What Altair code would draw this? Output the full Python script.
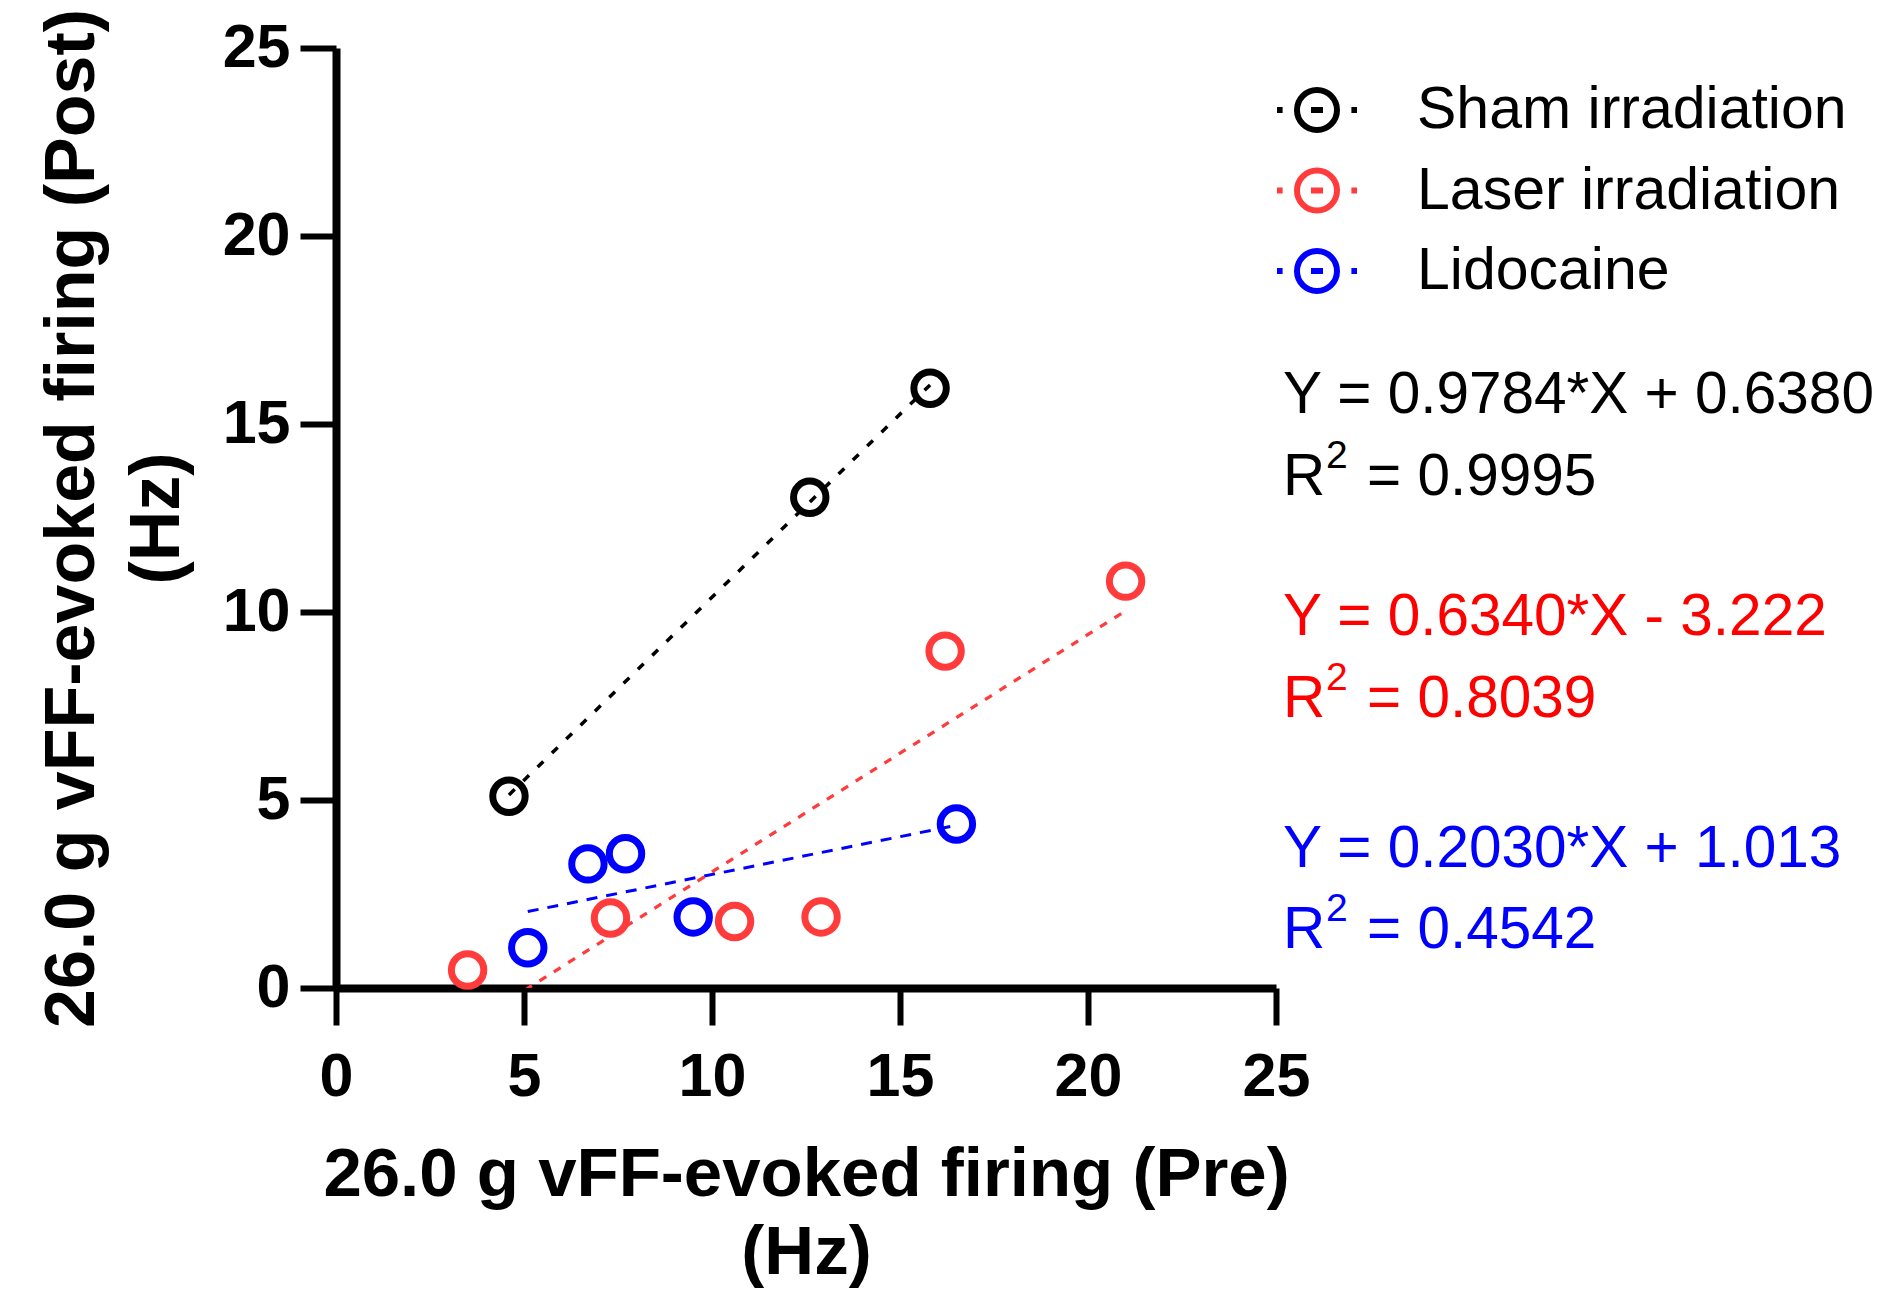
import altair as alt
import pandas as pd

groups = ["Sham irradiation", "Laser irradiation", "Lidocaine"]
point_colors = ["#000000", "#FF3B3B", "#0000FF"]
text_colors = ["#000000", "#FF0000", "#0000FF"]

sham_pre = [4.6, 12.6, 15.8]
sham_post = [5.1, 13.05, 15.95]
laser_pre = [3.5, 7.3, 10.6, 12.9, 16.2, 21.0]
laser_post = [0.48, 1.86, 1.77, 1.89, 8.96, 10.82]
lido_pre = [5.1, 6.7, 7.7, 9.5, 16.5]
lido_post = [1.07, 3.3, 3.57, 1.89, 4.36]

eq_lines = ["Y = 0.9784*X + 0.6380", "Y = 0.6340*X - 3.222", "Y = 0.2030*X + 1.013"]
r2_values = ["= 0.9995", "= 0.8039", "= 0.4542"]
ticks = [0, 5, 10, 15, 20, 25]

FONT = "Liberation Sans"

df = pd.concat([
    pd.DataFrame({"group": groups[0], "pre": sham_pre, "post": sham_post}),
    pd.DataFrame({"group": groups[1], "pre": laser_pre, "post": laser_post}),
    pd.DataFrame({"group": groups[2], "pre": lido_pre, "post": lido_post}),
])

x_scale = alt.Scale(domain=[0, 25], nice=False)
y_scale = alt.Scale(domain=[0, 25], nice=False)

x_axis = alt.Axis(
    values=ticks, grid=False,
    title=["26.0 g vFF-evoked firing (Pre)", "(Hz)"],
    titleFont=FONT, titleFontSize=69, titleFontWeight="bold", titleColor="black",
    titleX=470, titleY=207, titleAlign="center", titleBaseline="alphabetic",
    titleLineHeight=78,
    labelFont=FONT, labelFontSize=61, labelFontWeight="bold", labelColor="black",
    labelBaseline="alphabetic", labelPadding=70, labelFlush=False, labelOverlap=False,
    tickSize=37, tickWidth=6, tickColor="black",
    domainWidth=8, domainColor="black",
)
y_axis = alt.Axis(
    values=ticks, grid=False,
    title=["26.0 g vFF-evoked firing (Post)", "(Hz)"],
    titleFont=FONT, titleFontSize=70, titleFontWeight="bold", titleColor="black",
    titleAngle=270, titleX=-243, titleY=470, titleAlign="center",
    titleBaseline="alphabetic", titleLineHeight=85,
    labelFont=FONT, labelFontSize=61, labelFontWeight="bold", labelColor="black",
    labelBaseline="middle", labelPadding=10, labelFlush=False, labelOverlap=False,
    tickSize=36, tickWidth=6, tickColor="black",
    domainWidth=8, domainColor="black",
)

legend_symbol = (
    "M-1,0L-0.86,0M0.86,0L1,0M-0.15,0L0.15,0"
    "M0.5,0A0.5,0.5,0,1,1,-0.5,0A0.5,0.5,0,1,1,0.5,0Z"
)

lines = (
    alt.Chart(df)
    .transform_regression("pre", "post", groupby=["group"])
    .mark_line(clip=True)
    .encode(
        x=alt.X("pre:Q", scale=x_scale, axis=x_axis),
        y=alt.Y("post:Q", scale=y_scale, axis=y_axis),
        stroke=alt.Stroke("group:N", scale=alt.Scale(domain=groups, range=point_colors), legend=None),
        strokeDash=alt.StrokeDash("group:N", scale=alt.Scale(domain=groups, range=[[8, 12], [8, 9], [11, 9]]), legend=None),
        strokeWidth=alt.StrokeWidth("group:N", scale=alt.Scale(domain=groups, range=[3.5, 3, 4.5]), legend=None),
    )
)

points = (
    alt.Chart(df)
    .mark_point(filled=False, shape="circle", size=1050, strokeWidth=7, opacity=1)
    .encode(
        x=alt.X("pre:Q", scale=x_scale),
        y=alt.Y("post:Q", scale=y_scale),
        color=alt.Color(
            "group:N", title=None,
            scale=alt.Scale(domain=groups, range=point_colors),
            legend=alt.Legend(
                orient="none", legendX=938, legendY=19, padding=0,
                symbolType=legend_symbol, symbolSize=6400, symbolStrokeWidth=6,
                labelFont=FONT, labelFontSize=59, labelColor="black",
                labelOffset=57, rowPadding=5.5, labelLimit=0,
            ),
        ),
    )
)

# equation / R² annotations to the right of the plot
eq_baselines = [365, 587, 819]
r2_baselines = [447, 669, 900]
notes = []
for eq, r2, col, yb, rb in zip(eq_lines, r2_values, text_colors, eq_baselines, r2_baselines):
    base = alt.Chart(pd.DataFrame({"t": [eq], "r": ["R"], "s": ["2"], "v": [r2]}))
    style = dict(font=FONT, fontSize=58.5, color=col, align="left", baseline="alphabetic")
    notes.append(base.mark_text(**style).encode(x=alt.value(947), y=alt.value(yb), text="t:N"))
    notes.append(base.mark_text(**style).encode(x=alt.value(947), y=alt.value(rb), text="r:N"))
    notes.append(
        base.mark_text(font=FONT, fontSize=39, color=col, align="left", baseline="alphabetic")
        .encode(x=alt.value(990), y=alt.value(rb - 27), text="s:N")
    )
    notes.append(base.mark_text(**style).encode(x=alt.value(1031), y=alt.value(rb), text="v:N"))

chart = (
    alt.layer(lines, points, *notes)
    .resolve_scale(color="independent")
    .properties(
        width=940, height=940,
        autosize=alt.AutoSizeParams(type="none"),
        padding={"left": 328, "top": 40, "right": 611, "bottom": 300},
        background="white",
    )
    .configure_view(stroke=None)
)

chart.save("out.html", embed_options={"renderer": "svg", "actions": False})
